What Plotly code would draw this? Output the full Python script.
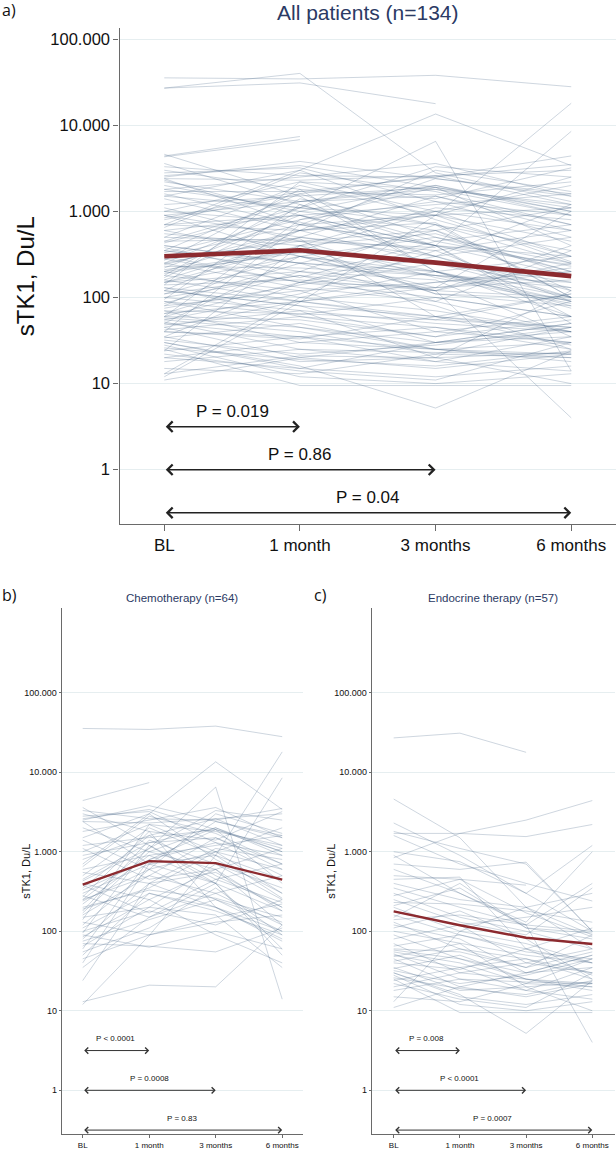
import numpy as np
import plotly.graph_objects as go

# ---------------- data ----------------
timepoints = ["BL", "1 month", "3 months", "6 months"]
ytick_vals = [1, 10, 100, 1000, 10000, 100000]
ytick_text = ["1", "10", "100", "1.000", "10.000", "100.000"]

# sTK1 (Du/L) per patient: BL, 1 month, 3 months, 6 months (None = missing)
chemo = [
    [35500, 34500, 38000, 28000], [4400, 7400, None, None], [1500, 3000, 13500, 3400],
    [12, 88, 900, 18000], [250, 1100, 6500, 14], [2400, 700, 400, 8500],
    [13, 21, 20, 120], [24, 400, 200, 100], [3300, 2600, 2500, 3500],
    [2500, 3800, 2400, 1600], [2800, 3200, 1300, 900], [2400, 2300, 2600, 3000],
    [1000, 2200, 1800, 1200], [1200, 1500, 1900, 1000], [900, 1300, 1500, 600],
    [700, 3000, 800, 300], [600, 900, 1200, 1600], [550, 400, 1100, 800],
    [450, 1300, 2000, 1000], [400, 250, 600, 1100], [350, 1600, 500, 200],
    [300, 700, 900, 450], [280, 150, 300, 500], [250, 500, 1500, 700],
    [220, 900, 400, 180], [200, 330, 260, 150], [180, 1400, 700, 250],
    [160, 500, 300, 120], [150, 200, 700, 350], [140, 2200, 1000, 300],
    [130, 90, 150, 220], [120, 600, 3000, 1700], [110, 300, 180, 90],
    [100, 180, 120, 250], [95, 1200, 400, 60], [90, 63, 100, 60],
    [85, 250, 90, 40], [80, 400, 550, 200], [75, 140, 250, 130],
    [70, 65, 55, 110], [65, 200, 160, 35], [60, 800, 1300, 500],
    [55, 110, 350, 90], [50, 300, 200, 75], [45, 90, 130, 160],
    [40, 700, 2400, 1500], [35, 150, 400, 50], [3000, 1800, 200, 80],
    [2000, 1000, 600, 120], [1800, 2500, 3600, 1500], [1400, 600, 1000, 2000],
    [800, 1600, 2600, 1200], [650, 2800, 1700, 700], [500, 2000, 900, 260],
    [430, 1100, 3300, 2500], [380, 170, 450, 700], [330, 800, 1900, 400],
    [270, 1800, 1400, 3200], [240, 600, 250, 100], [190, 350, 1000, 600],
    [170, 1000, 2000, 900], [3600, 1200, 450, 230], [1100, 450, 600, 180],
    [2600, 3400, 1900, 1100],
]

endo = [
    [27000, 31000, 17800, None], [4600, 1500, 200, 90], [840, 1700, 2500, 4400],
    [1700, 1700, 1550, 2200], [2300, 900, 300, 100], [1800, 1100, 700, 100],
    [1600, 700, 400, 240], [1000, 750, 300, 1200], [700, 600, 740, 100],
    [600, 300, 130, 1000], [500, 450, 380, None], [450, 480, 60, 40],
    [400, 250, 200, 300], [350, 200, 120, 400], [300, 150, 100, 60],
    [250, 130, 90, 350], [230, 220, 180, 130], [200, 100, 70, 40],
    [180, 120, 150, 200], [160, 90, 60, 110], [150, 400, 110, 80],
    [130, 60, 45, 30], [120, 80, 30, 50], [110, 180, 80, 25],
    [100, 70, 50, 40], [90, 45, 25, 20], [80, 120, 40, 30],
    [70, 30, 25, 22], [60, 55, 35, 90], [55, 40, 22, 20],
    [52, 25, 18, 35], [50, 35, 45, 25], [48, 70, 20, 10],
    [45, 20, 15, 22], [40, 33, 60, 28], [30, 16, 5.2, 24],
    [35, 18, 20, 23], [32, 22, 28, 45], [30, 15, 12, 16],
    [28, 12, 10, 13], [26, 19, 16, 24], [25, 9.5, 9.5, 9.5],
    [22, 14, 11, 30], [20, 30, 40, 60], [18, 25, 23, 22],
    [15, 13, 22, 45], [13, 100, 200, 60], [11, 20, 30, 50],
    [900, 300, 120, 4], [280, 450, 170, 85], [210, 350, 110, 95],
    [140, 160, 120, 100], [65, 90, 55, 45], [58, 45, 30, 35],
    [42, 60, 35, 55], [34, 50, 25, 18], [24, 35, 18, 14],
]

other = [
    [27000, 40000, 2800, 1300], [4300, 6800, None, None], [1500, 1100, 900, 2500],
    [700, 900, 400, 300], [350, 250, 180, 150], [200, 600, 900, 1100],
    [120, 80, 60, 45], [60, 150, 130, 200], [40, 35, 25, 30],
    [2200, 1300, 1800, 900], [900, 500, 350, 600], [20, 15, 30, 40],
    [150, 300, 500, 250],
]

mean_all = [301, 353, 254, 177]
mean_chemo = [385, 762, 720, 446]
mean_endo = [178, 119, 83, 69]

comparisons = [(0, 1), (0, 2), (0, 3)]
bracket_levels = [3.16, 1.0, 0.316]
p_all = ["P = 0.019", "P = 0.86", "P = 0.04"]
p_chemo = ["P < 0.0001", "P = 0.0008", "P = 0.83"]
p_endo = ["P = 0.008", "P < 0.0001", "P = 0.0007"]

# ---------------- layout helpers ----------------
W, H = 616, 1150
def px(x):
    return x / W
def py(y):
    return 1 - y / H

FONT = "Liberation Sans, Arial, sans-serif"
NAVY = "#2b3a64"
LINE_COL = "rgba(70,100,135,0.45)"
MEAN_COL = "#8c2a2f"
GRID = "rgb(230,238,240)"
AX = "#6a6a6a"

fig = go.Figure()

def spaghetti(rows, xa, ya, width):
    xs, ys = [], []
    for r in rows:
        for i, v in enumerate(r):
            xs.append(i)
            ys.append(v)
        xs.append(None)
        ys.append(None)
    fig.add_trace(go.Scatter(x=xs, y=ys, mode="lines", xaxis=xa, yaxis=ya,
                             line=dict(color=LINE_COL, width=width),
                             connectgaps=False, hoverinfo="skip", showlegend=False))

def mean_line(vals, xa, ya, width):
    fig.add_trace(go.Scatter(x=list(range(len(timepoints))), y=vals, mode="lines",
                             xaxis=xa, yaxis=ya, line=dict(color=MEAN_COL, width=width),
                             showlegend=False))

spaghetti(chemo + endo + other, "x", "y", 0.6)
mean_line(mean_all, "x", "y", 4.6)
spaghetti(chemo, "x2", "y2", 0.6)
mean_line(mean_chemo, "x2", "y2", 2.4)
spaghetti(endo, "x3", "y3", 0.6)
mean_line(mean_endo, "x3", "y3", 2.4)

panels = [
    dict(s="", xd=(119.5, 616), yd=(28, 525), xr=(-0.33, 3.33), yr=(-0.626, 5.13),
         xf=17, yf=16.5, lw=1.4, tl=6, ptxt=p_all, pf=17, pshift=15,
         aw=1.5, asz=1.35, acol="#222222"),
    dict(s="2", xd=(61.7, 303), yd=(610, 1137), xr=(-0.316, 3.313), yr=(-0.55, 6.06),
         xf=8, yf=9, lw=1.0, tl=3, ptxt=p_chemo, pf=8, pshift=12,
         aw=1.0, asz=1.2, acol="#333333"),
    dict(s="3", xd=(371.7, 615), yd=(610, 1137), xr=(-0.332, 3.343), yr=(-0.55, 6.06),
         xf=8, yf=9, lw=1.0, tl=3, ptxt=p_endo, pf=8, pshift=12,
         aw=1.0, asz=1.2, acol="#333333"),
]

annotations = []
for p in panels:
    s = p["s"]
    fig.update_layout(**{
        "xaxis" + s: dict(domain=[px(p["xd"][0]), px(p["xd"][1])], range=list(p["xr"]),
                          anchor="y" + s, tickmode="array", tickvals=list(range(4)),
                          ticktext=timepoints, showgrid=False, zeroline=False,
                          showline=True, linecolor=AX, linewidth=p["lw"],
                          ticks="outside", ticklen=p["tl"], tickcolor=AX,
                          tickwidth=p["lw"], tickfont=dict(family=FONT, size=p["xf"], color="#111")),
        "yaxis" + s: dict(domain=[py(p["yd"][1]), py(p["yd"][0])], type="log",
                          range=list(p["yr"]), anchor="x" + s, tickmode="array",
                          tickvals=ytick_vals, ticktext=ytick_text, showgrid=True,
                          gridcolor=GRID, gridwidth=1, zeroline=False, showline=True,
                          linecolor=AX, linewidth=p["lw"], ticks="outside",
                          ticklen=p["tl"] - 1, tickcolor=AX, tickwidth=p["lw"],
                          tickfont=dict(family=FONT, size=p["yf"], color="#111")),
    })
    xr = "x" + s
    yr = "y" + s
    for (a, b), lev, txt in zip(comparisons, bracket_levels, p["ptxt"]):
        ly = float(np.log10(lev))
        annotations.append(dict(x=b, y=ly, ax=a, ay=ly, xref=xr, yref=yr, axref=xr, ayref=yr,
                                text="", showarrow=True, arrowside="end+start",
                                arrowhead=4, startarrowhead=4, arrowsize=p["asz"],
                                startarrowsize=p["asz"], arrowwidth=p["aw"],
                                arrowcolor=p["acol"], standoff=0, startstandoff=0))
        annotations.append(dict(x=(a + b) / 2, y=ly, xref=xr, yref=yr, text=txt,
                                showarrow=False, yshift=p["pshift"], xanchor="center",
                                yanchor="middle",
                                font=dict(family=FONT, size=p["pf"], color="#111")))

annotations += [
    dict(x=px(367.5), y=py(13), xref="paper", yref="paper", text="All patients (n=134)",
         showarrow=False, xanchor="center", yanchor="middle",
         font=dict(family=FONT, size=21, color=NAVY)),
    dict(x=px(182), y=py(600), xref="paper", yref="paper", text="Chemotherapy (n=64)",
         showarrow=False, xanchor="center", yanchor="middle",
         font=dict(family=FONT, size=11.5, color=NAVY)),
    dict(x=px(493), y=py(600), xref="paper", yref="paper", text="Endocrine therapy (n=57)",
         showarrow=False, xanchor="center", yanchor="middle",
         font=dict(family=FONT, size=11.5, color=NAVY)),
    dict(x=px(0), y=py(10), xref="paper", yref="paper", text="a)", showarrow=False,
         xanchor="left", yanchor="middle", font=dict(family="Open Sans, sans-serif", size=16, color="#111")),
    dict(x=px(0), y=py(597), xref="paper", yref="paper", text="b)", showarrow=False,
         xanchor="left", yanchor="middle", font=dict(family="Open Sans, sans-serif", size=16, color="#111")),
    dict(x=px(312), y=py(597), xref="paper", yref="paper", text="c)", showarrow=False,
         xanchor="left", yanchor="middle", font=dict(family="Open Sans, sans-serif", size=16, color="#111")),
    dict(x=px(25), y=py(277), xref="paper", yref="paper", text="sTK1, Du/L", textangle=-90,
         showarrow=False, xanchor="center", yanchor="middle",
         font=dict(family=FONT, size=24, color="#111")),
    dict(x=px(26), y=py(874), xref="paper", yref="paper", text="sTK1, Du/L", textangle=-90,
         showarrow=False, xanchor="center", yanchor="middle",
         font=dict(family=FONT, size=11, color="#111")),
    dict(x=px(331), y=py(874), xref="paper", yref="paper", text="sTK1, Du/L", textangle=-90,
         showarrow=False, xanchor="center", yanchor="middle",
         font=dict(family=FONT, size=11, color="#111")),
]

fig.update_layout(width=W, height=H, margin=dict(l=0, r=0, t=0, b=0),
                  paper_bgcolor="white", plot_bgcolor="white",
                  annotations=annotations, showlegend=False)

fig.write_html("out.html", config={"displayModeBar": False},
               post_script="document.body.style.margin='0';document.body.style.overflow='hidden';")
